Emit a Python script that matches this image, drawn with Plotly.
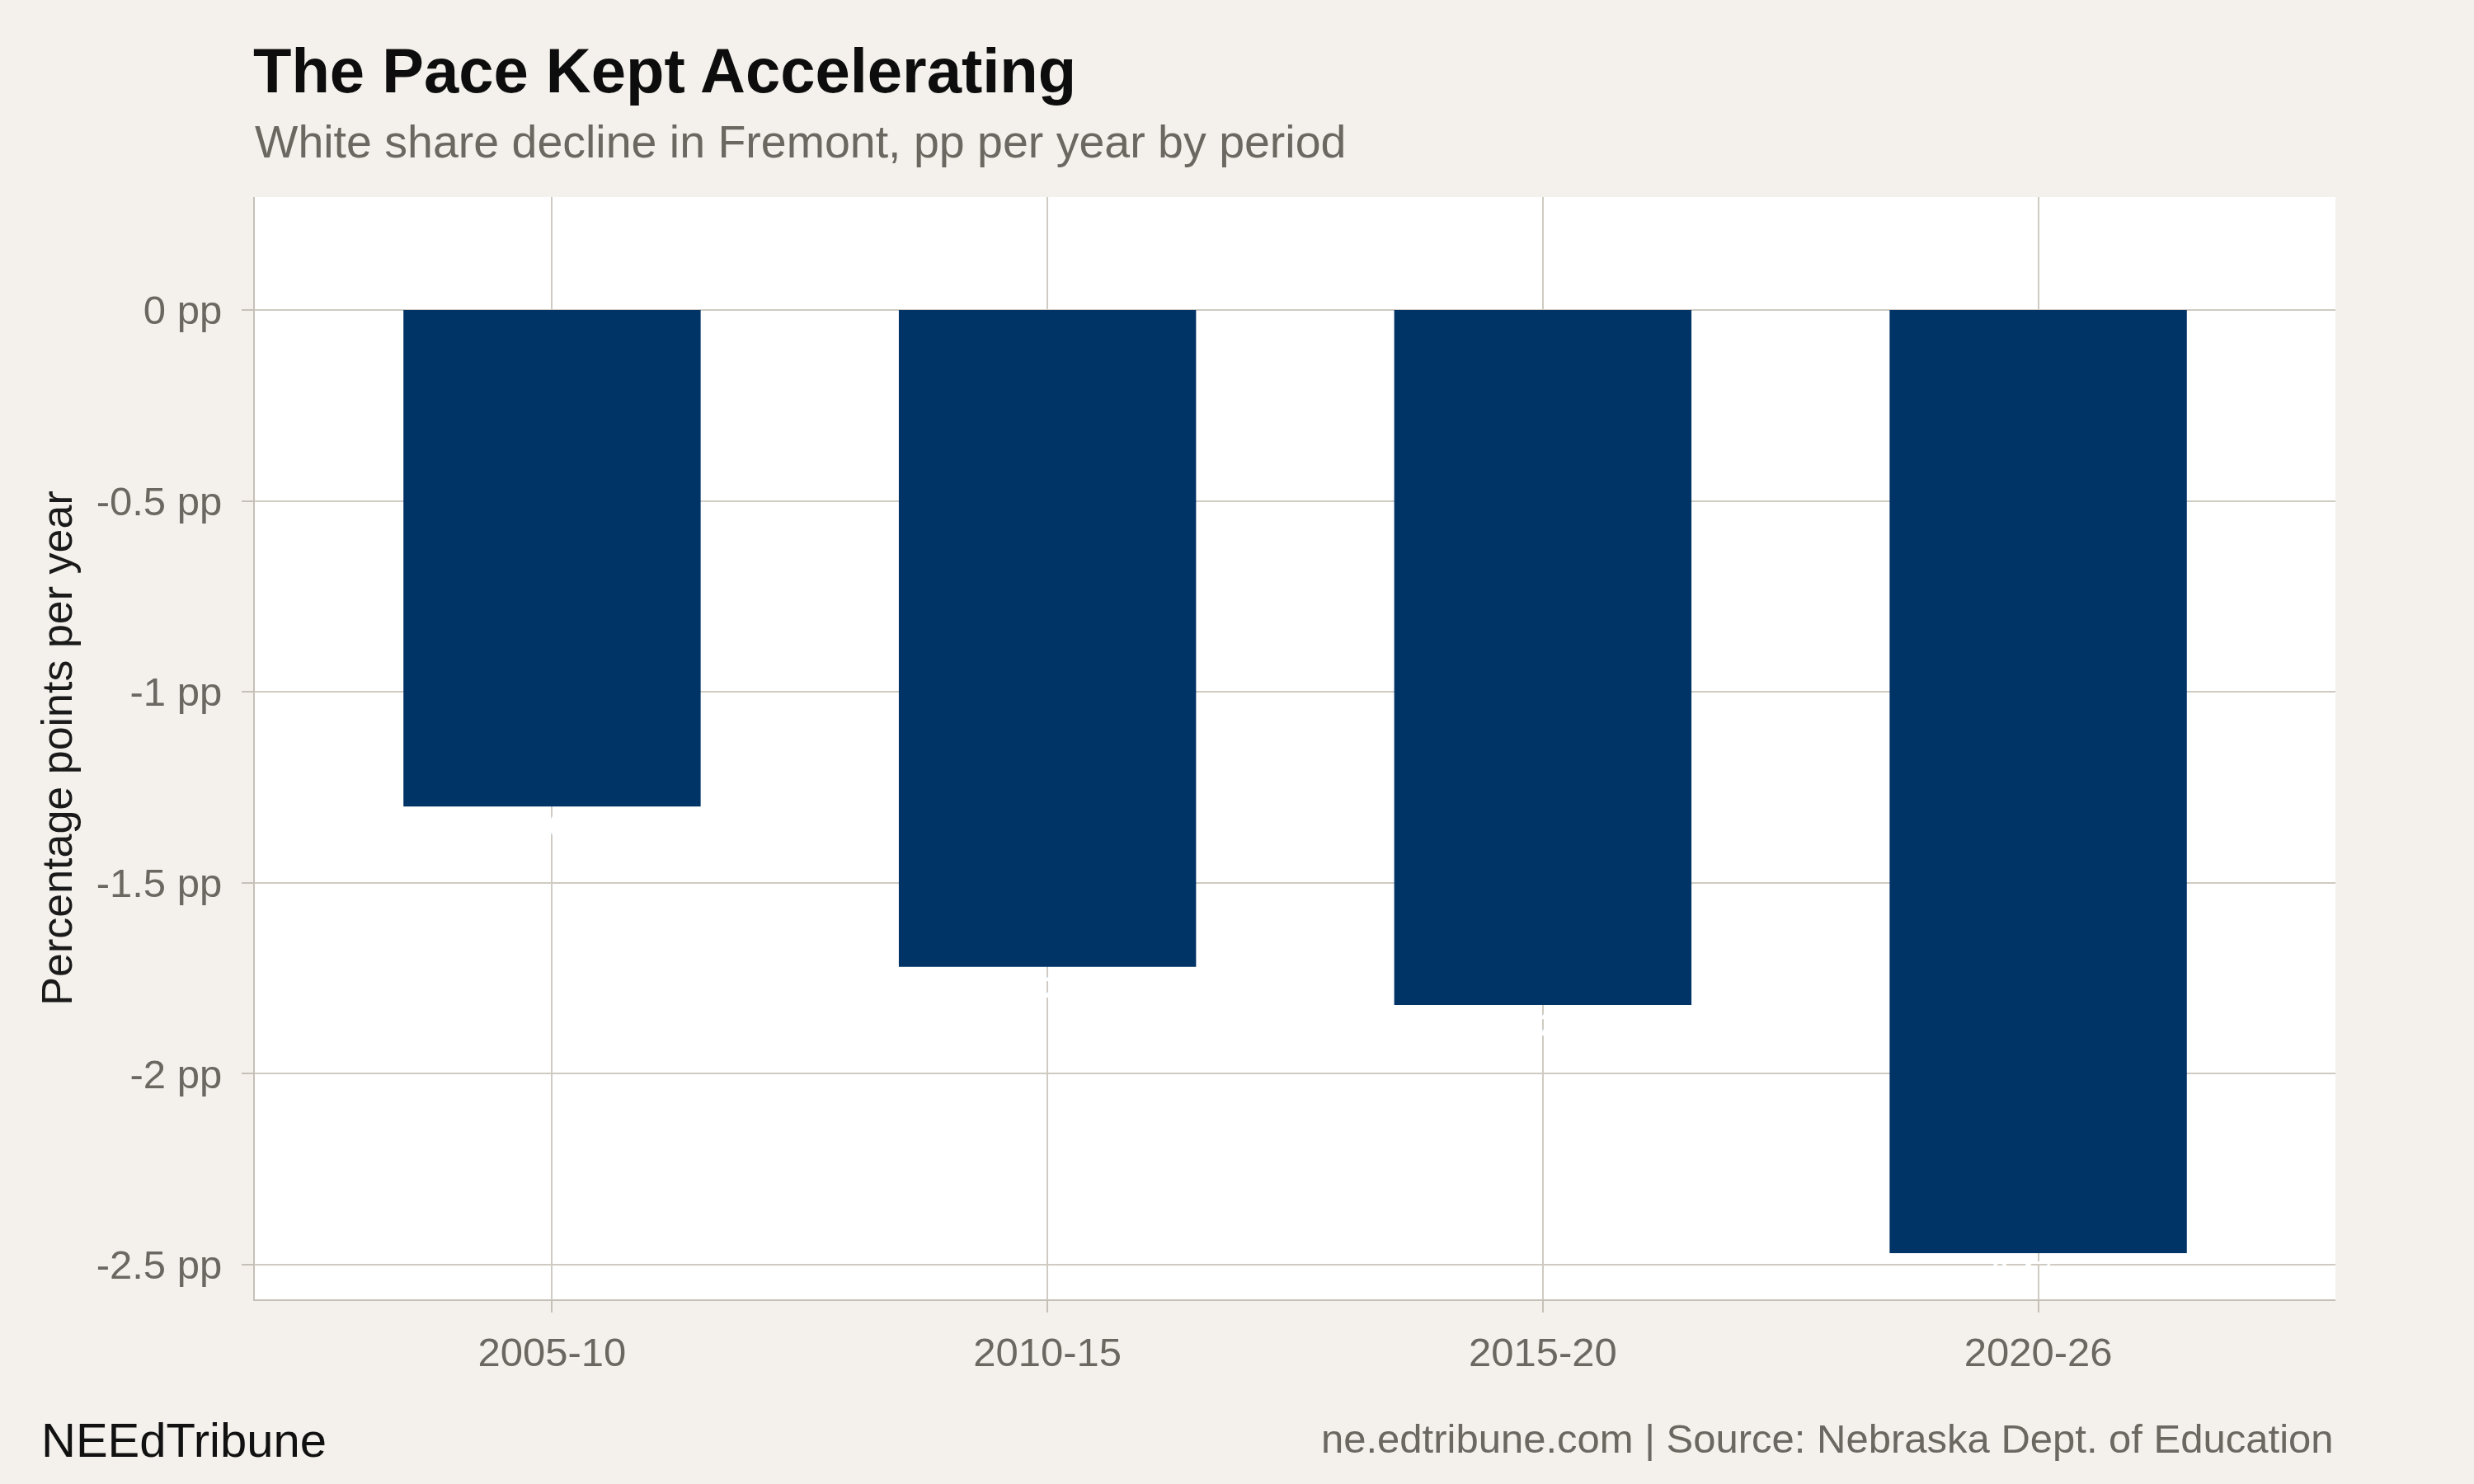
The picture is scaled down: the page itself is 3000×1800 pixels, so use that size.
import plotly.graph_objects as go

# data
periods = ["2005-10", "2010-15", "2015-20", "2020-26"]
pp_per_year = [-1.30, -1.72, -1.82, -2.47]
y_tick_vals = [0, -0.5, -1, -1.5, -2, -2.5]
y_tick_text = ["0 pp", "-0.5 pp", "-1 pp", "-1.5 pp", "-2 pp", "-2.5 pp"]

W, H = 3000, 1800
L, R, T, B = 309, 168, 239, 224
FONT = "Liberation Sans, Arial, Helvetica, sans-serif"
BG = "#F4F1EC"
GRID = "#CFCBC2"
AXIS = "#C6C1B8"
GREY = "#6B6761"


def px_x(px):
    return (px - L) / (W - L - R)


def px_y(py):
    return (H - B - py) / (H - T - B)


fig = go.Figure(go.Bar(
    x=periods,
    y=pp_per_year,
    width=0.6,
    marker=dict(color="#003366", line=dict(width=0)),
    text=[f"{v:.2f} pp" for v in pp_per_year],
    textposition="outside",
    textfont=dict(color="white", size=38, family=FONT),
    cliponaxis=False,
    hoverinfo="skip",
))

fig.update_layout(
    width=W, height=H,
    margin=dict(l=L, r=R, t=T, b=B),
    paper_bgcolor=BG,
    plot_bgcolor="white",
    font=dict(family=FONT, color=GREY),
    showlegend=False,
    title=dict(
        text="<b>The Pace Kept Accelerating</b>",
        font=dict(size=76, color="#0d0d0d", family=FONT),
        xref="container", yref="container",
        x=307 / W, xanchor="left",
        y=1 - 85 / H, yanchor="middle",
    ),
)

fig.update_xaxes(
    type="category",
    range=[-0.6, 3.6],
    showgrid=True, gridcolor=GRID, gridwidth=2,
    showline=True, linecolor=AXIS, linewidth=2,
    ticks="outside", ticklen=14, tickwidth=2, tickcolor=AXIS,
    tickfont=dict(size=49, color=GREY),
    ticklabelstandoff=6,
)
fig.update_yaxes(
    range=[-2.5907, 0.2958],
    tickvals=y_tick_vals, ticktext=y_tick_text,
    showgrid=True, gridcolor=GRID, gridwidth=2,
    zeroline=False,
    showline=True, linecolor=AXIS, linewidth=2,
    ticks="outside", ticklen=14, tickwidth=2, tickcolor=AXIS,
    tickfont=dict(size=49, color=GREY),
    ticklabelstandoff=14,
    title=dict(text="Percentage points per year", font=dict(size=52, color="#1a1a1a"), standoff=12),
)

annotations = [
    dict(text="White share decline in Fremont, pp per year by period",
         x=px_x(307), y=px_y(172), xanchor="left", yanchor="middle",
         font=dict(size=55.5, color=GREY)),
    dict(text="NEEdTribune",
         x=px_x(48), y=px_y(1746), xanchor="left", yanchor="middle",
         font=dict(size=58, color="#111111")),
    dict(text="ne.edtribune.com | Source: Nebraska Dept. of Education",
         x=1.0, y=px_y(1745), xanchor="right", yanchor="middle",
         font=dict(size=49, color=GREY)),
]
for a in annotations:
    fig.add_annotation(xref="paper", yref="paper", showarrow=False, **a)

fig.write_html("out.html", config={"displayModeBar": False},
               post_script="document.body.style.margin='0';")
